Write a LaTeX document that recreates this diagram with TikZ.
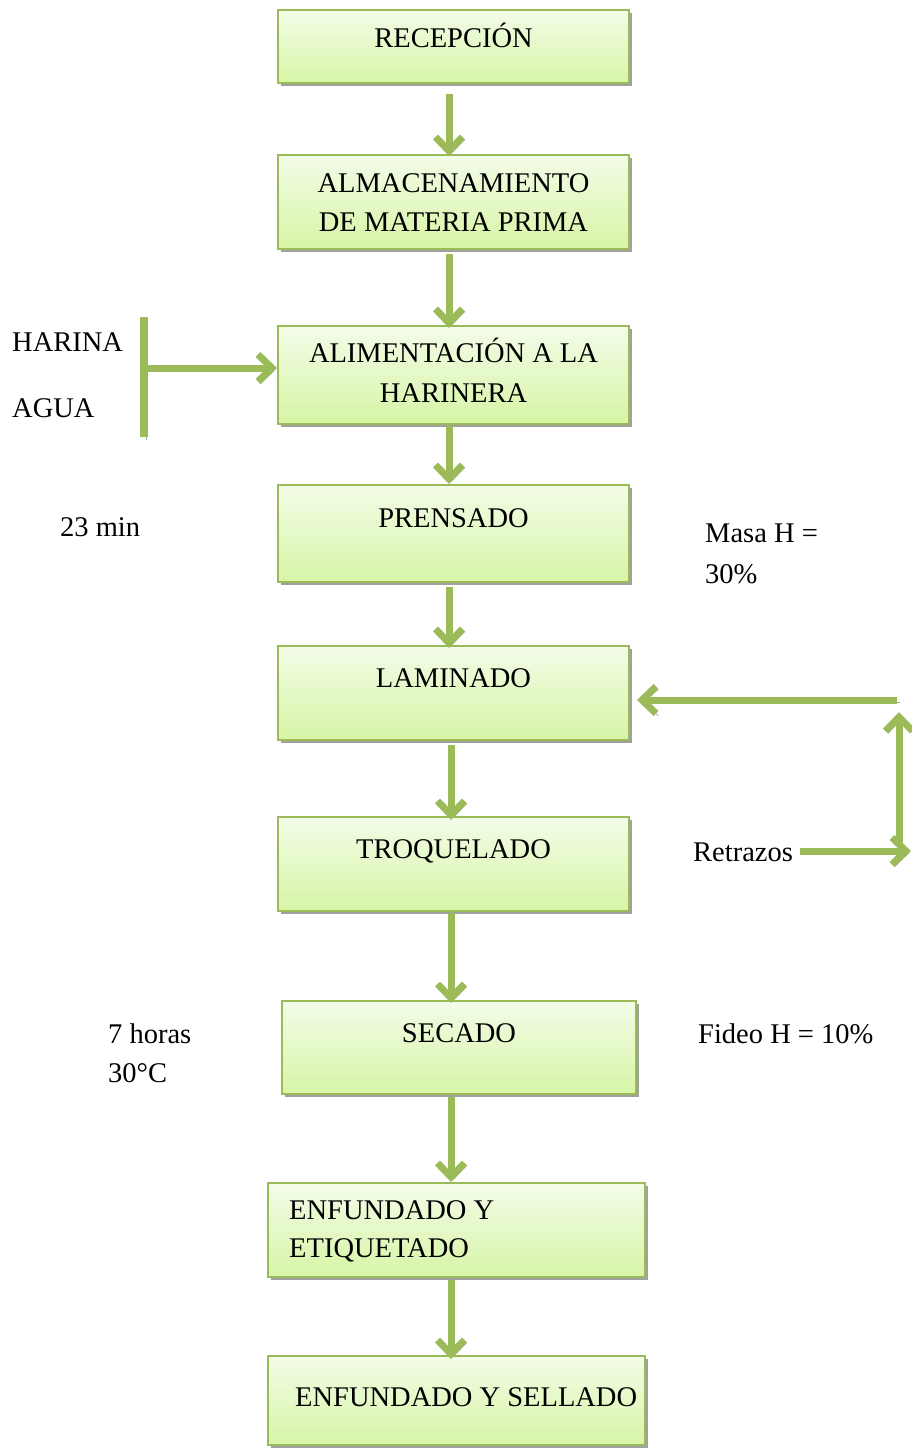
\documentclass[tikz,border=0pt]{standalone}
\usepackage{fontspec}
\setmainfont{Liberation Serif}
\usetikzlibrary{arrows.meta,shadows,calc}
\definecolor{olive}{HTML}{9BBB59}
\definecolor{boxtop}{HTML}{F3FCE8}
\definecolor{boxbot}{HTML}{D7F5A5}
\definecolor{shad}{HTML}{A0A0A0}
\begin{document}
\begin{tikzpicture}[x=1pt,y=-1pt,
  box/.style={draw=olive, line width=2pt, top color=boxtop, bottom color=boxbot,
    inner sep=0pt, drop shadow={shadow xshift=3pt, shadow yshift=-3pt, fill=shad, opacity=1}},
  lbl/.style={font=\fontsize{28.5}{38}\selectfont, inner sep=0pt, anchor=base},
  lblw/.style={lbl, anchor=base west},
  flow/.style={draw=olive, line width=7pt,
    -{Straight Barb[length=14pt,width=27pt]},
    preaction={draw=shad, transform canvas={shift={(2.5pt,-2.5pt)}}}},
  bar/.style={draw=olive, line width=8pt,
    preaction={draw=shad, transform canvas={shift={(2.5pt,-2.5pt)}}}}
]
\useasboundingbox (0,0) rectangle (912,1450);

% boxes
\node[box, minimum width=351, minimum height=73] (b1) at (453.5,46.5) {};
\node[box, minimum width=351, minimum height=94] (b2) at (453.5,202) {};
\node[box, minimum width=351, minimum height=98] (b3) at (453.5,375) {};
\node[box, minimum width=351, minimum height=97] (b4) at (453.5,533.5) {};
\node[box, minimum width=351, minimum height=94] (b5) at (453.5,693) {};
\node[box, minimum width=351, minimum height=94] (b6) at (453.5,864) {};
\node[box, minimum width=354, minimum height=93] (b7) at (459,1047.5) {};
\node[box, minimum width=377, minimum height=94] (b8) at (456.5,1230) {};
\node[box, minimum width=377, minimum height=89] (b9) at (456.5,1400.5) {};

% box texts
\node[lbl] (t1) at (453.5,47.5) {RECEPCIÓN};
\node[lbl] (t2a) at (453.5,192.5) {ALMACENAMIENTO};
\node[lbl] (t2b) at (453.5,231.5) {DE MATERIA PRIMA};
\node[lbl] (t3a) at (453.5,362.5) {ALIMENTACIÓN A LA};
\node[lbl] (t3b) at (453.5,402.5) {HARINERA};
\node[lbl] (t4) at (453.5,527.5) {PRENSADO};
\node[lbl] (t5) at (453.5,687.5) {LAMINADO};
\node[lbl] (t6) at (453.5,858.5) {TROQUELADO};
\node[lbl] (t7) at (459,1042.5) {SECADO};
\node[lblw] (t8a) at (289,1219.5) {ENFUNDADO Y};
\node[lblw] (t8b) at (289,1257.5) {ETIQUETADO};
\node[lblw] (t9) at (295,1406.5) {ENFUNDADO Y SELLADO};

% side texts
\node[lblw] (harina) at (12,351.5) {HARINA};
\node[lblw] (agua) at (12,417.5) {AGUA};
\node[lblw] (min) at (60,536.5) {23 min};
\node[lblw] (masa1) at (705,542.5) {Masa H =};
\node[lblw] (masa2) at (705,583.5) {30\%};
\node[lblw] (retr) at (693,861.5) {Retrazos};
\node[lblw] (horas) at (108,1043.5) {7 horas};
\node[lblw] (grados) at (108,1082.5) {30°C};
\node[lblw] (fideo) at (698,1043.5) {Fideo H = 10\%};

% column coordinate
\coordinate (col) at (449,0);
\coordinate (colb) at (451,0);

% main flow arrows
\draw[flow, shorten <=10pt, shorten >=-2pt] (b1.south -| col) -- (b2.north -| col);
\draw[flow, shorten <=4pt, shorten >=-3pt] (b2.south -| col) -- (b3.north -| col);
\draw[flow, shorten <=1pt] (b3.south -| col) -- (b4.north -| col);
\draw[flow, shorten <=4pt, shorten >=-3pt] (b4.south -| col) -- (b5.north -| col);
\draw[flow, shorten <=4pt, shorten >=-4pt] (b5.south -| colb) -- (b6.north -| colb);
\draw[flow, shorten <=1pt, shorten >=-3pt] (b6.south -| colb) -- (b7.north -| colb);
\draw[flow, shorten <=2pt] (b7.south -| colb) -- (b8.north -| colb);
\draw[flow, shorten <=2pt, shorten >=-4pt] (b8.south -| colb) -- (b9.north -| colb);

% harina / agua input
\coordinate (hb1) at (144,317);
\coordinate (hb2) at (144,437);
\coordinate (hin) at (144,368);
\draw[bar] (hb1) -- (hb2);
\draw[flow] (hin) -- (b3.west |- hin);

% retrazos return loop
\coordinate (rs) at (800,851);
\coordinate (re) at (911,851);
\coordinate (vb) at (899,846);
\coordinate (vt) at (899,712);
\coordinate (hs) at (897,700);
\draw[flow] (rs) -- (re);
\draw[flow] (vb) -- (vt);
\draw[flow, shorten >=7pt] (hs) -- (b5.east |- hs);
\end{tikzpicture}
\end{document}
